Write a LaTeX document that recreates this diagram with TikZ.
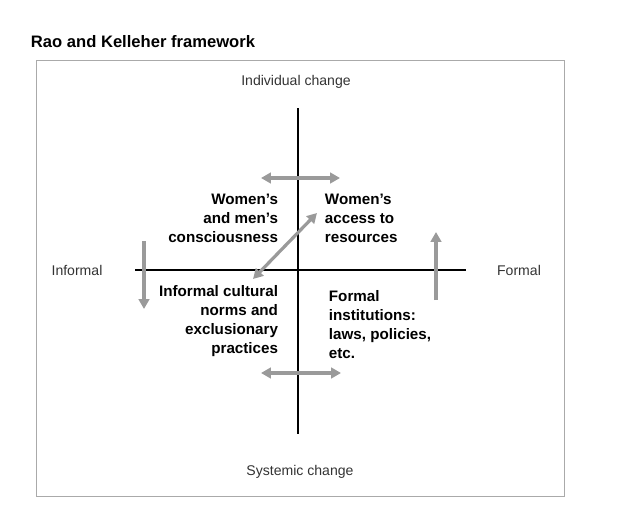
\documentclass[tikz,border=0pt]{standalone}
\usepackage{fontspec}
\setmainfont{Liberation Sans}
\usetikzlibrary{arrows.meta}
\definecolor{arrowgray}{HTML}{9A9A9A}
\definecolor{framegray}{HTML}{AAAAAA}
\definecolor{labelgray}{HTML}{333333}
\begin{document}
\begin{tikzpicture}[
    x=0.025cm, y=-0.025cm,
    axislabel/.style={font=\fontsize{10}{12}\selectfont, text=labelgray},
    quadrant/.style={font=\fontsize{10.8}{13.5}\selectfont\bfseries},
    axis/.style={line width=2pt},
    oneway/.style={draw=arrowgray, line width=2.3pt,
                  arrows={-Triangle[length=7pt,width=7.5pt]}},
    twoway/.style={oneway, arrows={Triangle[length=7pt,width=7.5pt]-Triangle[length=7pt,width=7.5pt]}}
]
\useasboundingbox (0,0) rectangle (620,513);

% --- TITLE AND FRAME ---
\node[anchor=west, font=\fontsize{11.8}{14}\selectfont\bfseries] (title) at (26,42) {Rao and Kelleher framework};
\draw[framegray, line width=0.7pt] (36,60) rectangle (564,496);

% --- AXES ---
\coordinate (top) at (298,108);
\coordinate (bottom) at (298,434);
\coordinate (left) at (135,270);
\coordinate (right) at (466,270);
\draw[axis] (top) -- (bottom);
\draw[axis] (left) -- (right);

\node[axislabel] (individual) at (296,82) {Individual change};
\node[axislabel] (systemic) at (300,472) {Systemic change};
\node[axislabel] (informal) at (77,270) {Informal};
\node[axislabel] (formal) at (519,270) {Formal};

% --- QUADRANTS ---
\node[quadrant, align=right, anchor=east] (consc) at (283,218) {Women's\\and men's\\consciousness};
\node[quadrant, align=left, anchor=west] (access) at (320,218) {Women's\\access to\\resources};
\node[quadrant, align=right, anchor=east] (norms) at (283,321) {Informal cultural\\norms and\\exclusionary\\practices};
\node[quadrant, align=left, anchor=west] (instit) at (324,325) {Formal\\institutions:\\laws, policies,\\etc.};

% --- ARROWS ---
\coordinate (ta) at (261,178);
\coordinate (tb) at (340,178);
\draw[twoway] (ta) -- (tb);
\coordinate (ba) at (261,373);
\coordinate (bb) at (341,373);
\draw[twoway] (ba) -- (bb);
\coordinate (da) at (253,279);
\coordinate (db) at (317,213);
\draw[twoway] (da) -- (db);
\coordinate (la) at (144,241);
\coordinate (lb) at (144,309);
\draw[oneway] (la) -- (lb);
\coordinate (ra) at (436,300);
\coordinate (rb) at (436,232);
\draw[oneway] (ra) -- (rb);

\end{tikzpicture}
\end{document}
